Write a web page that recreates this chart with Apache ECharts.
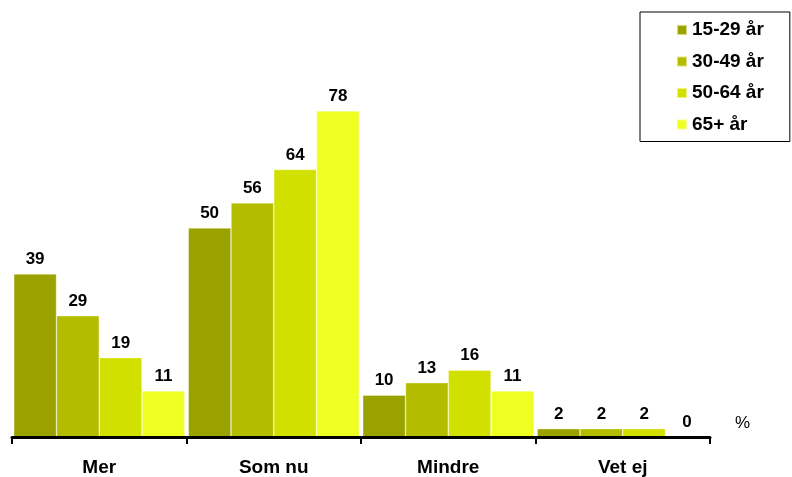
<!DOCTYPE html>
<html lang="sv">
<head>
<meta charset="UTF-8">
<title>Åldersgrupper</title>
<script src="https://cdn.jsdelivr.net/npm/echarts@6/dist/echarts.min.js"></script>
<style>
  body { margin: 0; background: #fff; }
  #main { width: 792px; height: 477px; }
</style>
</head>
<body>
<div id="main"></div>
<script>
  // categories and values
  let categories = ['Mer', 'Som nu', 'Mindre', 'Vet ej'];
  let groups = ['15-29 år', '30-49 år', '50-64 år', '65+ år'];
  let v1529 = [39, 50, 10, 2];
  let v3049 = [29, 56, 13, 2];
  let v5064 = [19, 64, 16, 2];
  let v65 = [11, 78, 11, 0];
  let colors = ['#9aa200', '#b4bc00', '#d2e000', '#eeff22'];

  let myChart = echarts.init(document.getElementById('main'));
  let font = 'Liberation Sans, Arial, sans-serif';

  let seriesConfig = [v1529, v3049, v5064, v65].map(function(vals, i) {
    return {
      name: groups[i],
      type: 'bar',
      data: vals,
      barGap: '0%',
      barCategoryGap: '2%',
      itemStyle: { color: colors[i], borderColor: 'rgba(255,255,230,0.6)', borderWidth: 0.6 },
      label: {
        show: true,
        position: 'top',
        distance: 6,
        color: '#000',
        fontFamily: font,
        fontWeight: 'bold',
        fontSize: 17
      },
      animation: false
    };
  });

  myChart.setOption({
    textStyle: { fontFamily: font },
    grid: { left: 12, right: 82, top: 102.6, bottom: 40 },
    legend: {
      orient: 'vertical',
      left: 640,
      top: 12,
      padding: [8, 26, 7, 36],
      itemWidth: 10,
      itemHeight: 10,
      itemGap: 11.5,
      borderColor: '#000',
      borderWidth: 1,
      icon: 'rect',
      data: groups,
      textStyle: { fontFamily: font, fontWeight: 'bold', fontSize: 19, color: '#000', lineHeight: 20 }
    },
    xAxis: {
      type: 'category',
      data: categories,
      z: 5,
      axisLine: { lineStyle: { color: '#000', width: 3 } },
      axisTick: { show: true, length: 7, lineStyle: { color: '#000', width: 2 } },
      axisLabel: { margin: 21, color: '#000', fontFamily: font, fontWeight: 'bold', fontSize: 19 }
    },
    yAxis: {
      type: 'value',
      min: 0,
      max: 80,
      show: false,
      splitLine: { show: false }
    },
    graphic: [{
      type: 'text',
      left: 735,
      top: 415,
      style: { text: '%', fontFamily: font, fontSize: 17, fill: '#000' }
    }],
    series: seriesConfig
  });
</script>
</body>
</html>
